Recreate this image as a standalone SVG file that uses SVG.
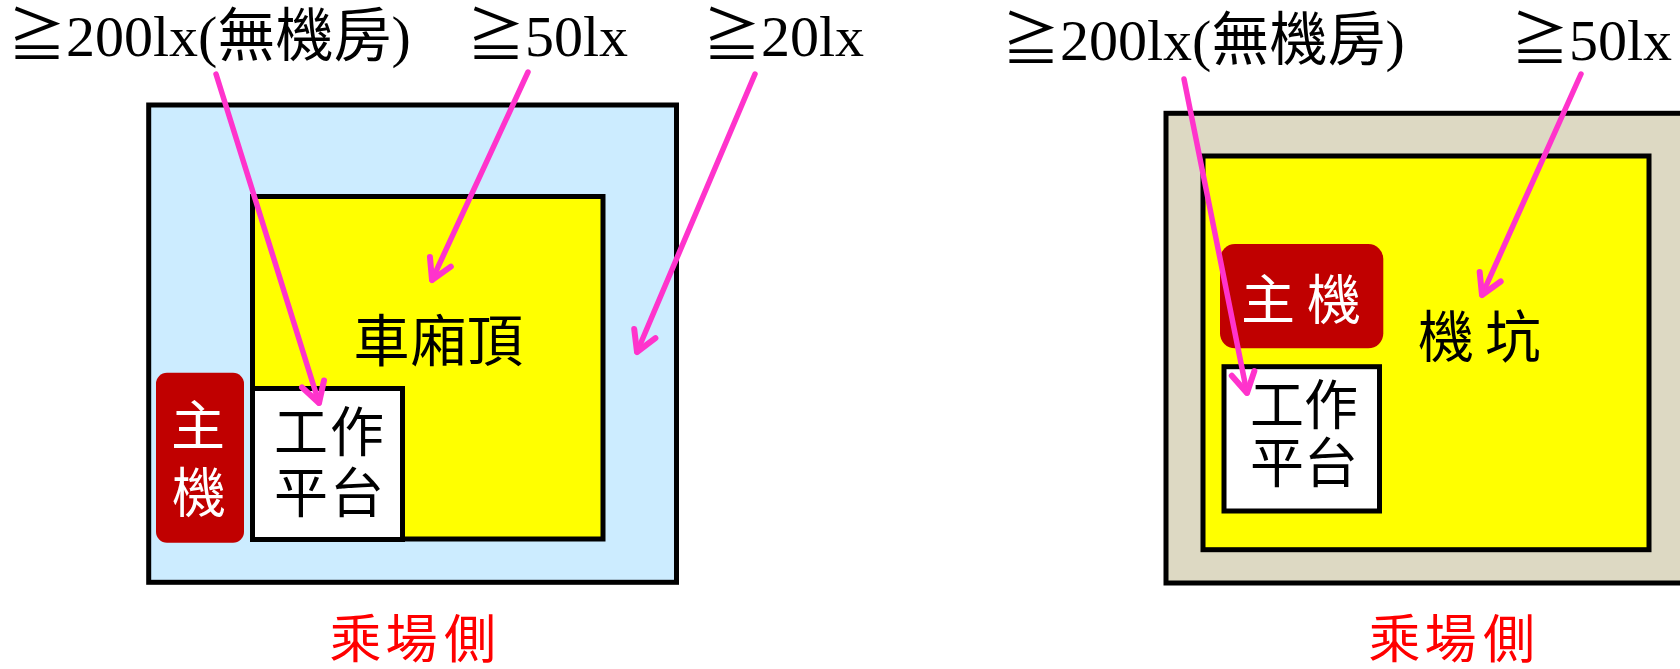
<svg xmlns="http://www.w3.org/2000/svg" width="1680" height="669" viewBox="0 0 1680 669">
  <defs>
    <style>
      .frame { stroke: #000000; stroke-width: 5; }
      .sky { fill: #CCECFF; }
      .tan { fill: #DDD9C3; }
      .yel { fill: #FFFF00; }
      .wht { fill: #FFFFFF; }
      .host { fill: #C00000; }
      .cjk { font-family: "Noto Sans CJK TC", "Liberation Serif", serif; text-anchor: middle; }
      .dark { fill: #000000; }
      .light { fill: #FFFFFF; }
      .side { fill: #FF0000; font-size: 52px; }
      .lux { font-family: "Liberation Serif", "Noto Sans CJK TC", serif; font-size: 58px; fill: #000000; }
      .ptr { stroke: #FF33CC; stroke-width: 5.5; fill: none; stroke-linecap: round; marker-end: url(#vhead); }
    </style>
    <marker id="vhead" markerUnits="userSpaceOnUse" markerWidth="40" markerHeight="40" viewBox="-30 -20 40 40" refX="0" refY="0" orient="auto" overflow="visible">
      <path d="M-20,-11.5 L0,0 L-20,11.5" fill="none" stroke="#FF33CC" stroke-width="6" stroke-linecap="round" stroke-linejoin="round"/>
    </marker>
  </defs>

  <!-- left: car-top layout -->
  <g id="car-shaft">
    <rect class="frame sky" x="148.7" y="105" width="527.8" height="477.3"/>
  </g>
  <g id="car-top">
    <rect class="frame yel" x="252.5" y="196.5" width="350.5" height="342.5"/>
    <text class="cjk dark" font-size="56" x="381.5 438.5 495" y="361">車廂頂</text>
  </g>
  <g id="car-platform">
    <rect class="frame wht" x="252.5" y="388.5" width="150" height="151"/>
    <text class="cjk dark" font-size="54" x="301 357" y="451.5">工作</text>
    <text class="cjk dark" font-size="54" x="301 357" y="512.5">平台</text>
  </g>
  <g id="car-host">
    <rect class="host" x="156" y="372.7" width="88" height="170" rx="11" ry="11"/>
    <text class="cjk light" font-size="54" x="198" y="445.5">主</text>
    <text class="cjk light" font-size="54" x="199" y="512.5">機</text>
  </g>
  <g id="car-landing">
    <text class="cjk side" x="355.5 411.5 470" y="658">乘場側</text>
  </g>

  <!-- right: pit layout -->
  <g id="pit-shaft">
    <rect class="frame tan" x="1166" y="113.3" width="600" height="469.7"/>
  </g>
  <g id="pit">
    <rect class="frame yel" x="1203" y="156" width="446" height="393.7"/>
    <text class="cjk dark" font-size="56" x="1446 1513" y="357">機坑</text>
  </g>
  <g id="pit-host">
    <rect class="host" x="1220" y="244" width="163.3" height="104.3" rx="15" ry="15"/>
    <text class="cjk light" font-size="54" x="1268 1334" y="319.5">主機</text>
  </g>
  <g id="pit-platform">
    <rect class="frame wht" x="1224" y="366.7" width="155.5" height="144.3"/>
    <text class="cjk dark" font-size="54" x="1277 1331" y="424.5">工作</text>
    <text class="cjk dark" font-size="54" x="1277 1331" y="482.5">平台</text>
  </g>
  <g id="pit-landing">
    <text class="cjk side" x="1394.5 1450.5 1509" y="658">乘場側</text>
  </g>

  <!-- illuminance labels -->
  <g id="lux-labels">
    <text class="lux" x="8" y="56">≧200lx(無機房)</text>
    <text class="lux" x="467" y="56">≧50lx</text>
    <text class="lux" x="703" y="56">≧20lx</text>
    <text class="lux" x="1002" y="60">≧200lx(無機房)</text>
    <text class="lux" x="1511" y="60">≧50lx</text>
  </g>

  <!-- pointers -->
  <g id="connectors">
    <line class="ptr" x1="216" y1="74" x2="319" y2="403"/>
    <line class="ptr" x1="528" y1="72" x2="432" y2="280"/>
    <line class="ptr" x1="755" y1="74" x2="637" y2="352"/>
    <line class="ptr" x1="1184" y1="79" x2="1247" y2="393"/>
    <line class="ptr" x1="1581" y1="74" x2="1482" y2="295"/>
  </g>
</svg>
